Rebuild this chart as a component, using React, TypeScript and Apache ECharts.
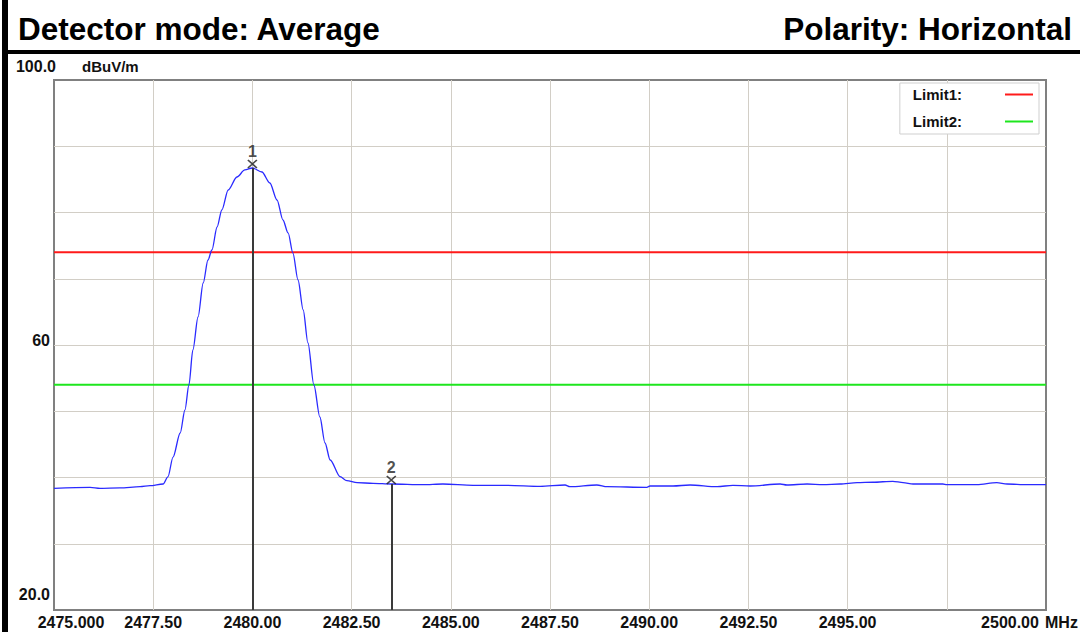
import React, { useEffect, useRef } from "react";
import * as echarts from "echarts";

// Trace: frequency (MHz) and level (dBuV/m)
const freqs = [
  2475.0, 2475.91, 2476.16, 2476.66, 2477.17, 2477.42, 2477.75, 2477.87, 2478.0, 2478.18,
  2478.3, 2478.4, 2478.5, 2478.63, 2478.76, 2478.88, 2478.98, 2479.11, 2479.23, 2479.39,
  2479.61, 2479.81, 2480.0, 2480.24, 2480.44, 2480.62, 2480.77, 2480.9, 2481.02, 2481.15,
  2481.28, 2481.4, 2481.55, 2481.7, 2481.83, 2481.96, 2482.21, 2482.38, 2482.64, 2483.04,
  2483.5, 2484.3, 2484.8, 2485.56, 2486.42, 2487.25, 2487.88, 2488.0, 2488.68, 2488.94,
  2489.94, 2490.02, 2490.6, 2491.03, 2491.71, 2492.11, 2492.54, 2493.3, 2493.47, 2493.98,
  2494.38, 2494.81, 2495.24, 2495.64, 2496.14, 2496.4, 2496.65, 2497.4, 2497.5, 2498.26,
  2498.76, 2499.02, 2499.52, 2500.0,
];
const levels = [
  38.37, 38.52, 38.37, 38.42, 38.61, 38.76, 39.02, 40.08, 43.09, 46.72,
  50.19, 53.96, 59.25, 64.23, 69.36, 72.83, 74.34, 77.81, 80.38, 83.4,
  85.36, 86.42, 86.72, 86.11, 84.45, 81.89, 78.87, 76.91, 73.89, 69.81,
  65.28, 60.3, 53.96, 49.13, 45.21, 42.64, 40.12, 39.52, 39.22, 39.12,
  39.02, 38.91, 39.02, 38.82, 38.82, 38.67, 38.87, 38.61, 38.87, 38.61,
  38.52, 38.72, 38.72, 38.87, 38.61, 38.82, 38.72, 39.02, 38.87, 39.02,
  38.91, 39.02, 39.22, 39.28, 39.43, 39.22, 39.02, 39.02, 38.91, 38.91,
  39.22, 39.02, 38.91, 38.91,
];

const limitNames = ["Limit1", "Limit2"];
const limitLevels = [74, 54];
const limitColors = ["#ff1a1a", "#1ee61e"];

const markerFreqs = [2480.0, 2483.5];
const markerLevels = [86.72, 39.02];
const markerLabels = ["1", "2"];

const xTickValues = [2475, 2477.5, 2480, 2482.5, 2485, 2487.5, 2490, 2492.5, 2495, 2497.5, 2500];
const xTickTexts = ["2475.000", "2477.50", "2480.00", "2482.50", "2485.00", "2487.50", "2490.00", "2492.50", "2495.00", "", "2500.00"];
const yTickValues = [100, 60, 20];
const yTickTexts = ["100.0", "60", "20.0"];

const FONT = "'Liberation Sans', Arial, Helvetica, sans-serif";

export default function App() {
  const ref = useRef<HTMLDivElement>(null);

  useEffect(() => {
    if (!ref.current) return;
    const chart = echarts.init(ref.current, undefined, { renderer: "svg" });

    const xFmt = (v: number) => {
      const i = xTickValues.findIndex((t) => Math.abs(t - v) < 1e-6);
      if (i < 0) return "";
      const t = xTickTexts[i];
      if (!t) return "";
      if (i === 0) return `{f|${t}}`;
      if (i === xTickValues.length - 1) return `{l|${t}}`;
      return `{n|${t}}`;
    };
    const yFmt = (v: number) => {
      const i = yTickValues.findIndex((t) => Math.abs(t - v) < 1e-6);
      if (i < 0) return "";
      const key = i === 0 ? "t" : i === yTickValues.length - 1 ? "b" : "m";
      return `{${key}|${yTickTexts[i]}}`;
    };
    const labelFont = { fontFamily: FONT, fontWeight: "bold" as const, fontSize: 16, color: "#111" };

    const option: any = {
      animation: false,
      backgroundColor: "#fff",
      textStyle: { fontFamily: FONT },
      grid: {
        left: 54,
        right: 34,
        top: 80,
        bottom: 22,
        show: true,
        borderColor: "#808080",
        borderWidth: 2,
        backgroundColor: "#fff",
      },
      legend: {
        data: limitNames,
        orient: "vertical",
        right: 41,
        top: 83,
        align: "right",
        icon: "rect",
        itemWidth: 28,
        itemHeight: 2,
        itemGap: 10,
        padding: [3, 6, 4, 13],
        backgroundColor: "#fff",
        borderColor: "#cfcfcf",
        borderWidth: 1,
        selectedMode: false,
        formatter: (n: string) => `{n|${n}:}`,
        textStyle: {
          ...labelFont,
          fontSize: 15,
          lineHeight: 17,
          rich: { n: { ...labelFont, fontSize: 15, lineHeight: 17, padding: [0, 38, 0, 0] } },
        },
      },
      xAxis: {
        type: "value",
        min: 2475,
        max: 2500,
        interval: 2.5,
        axisLine: { show: false },
        axisTick: { show: false },
        splitLine: { show: true, showMinLine: false, showMaxLine: false, lineStyle: { color: "#d2cec6", width: 1 } },
        axisLabel: {
          ...labelFont,
          margin: 4,
          showMinLabel: true,
          showMaxLabel: true,
          formatter: xFmt,
          rich: {
            n: { ...labelFont },
            f: { ...labelFont, padding: [0, 0, 0, 34] },
            l: { ...labelFont, padding: [0, 72, 0, 0] },
          },
        },
      },
      yAxis: {
        type: "value",
        min: 20,
        max: 100,
        interval: 10,
        axisLine: { show: false },
        axisTick: { show: false },
        splitLine: { show: true, showMinLine: false, showMaxLine: false, lineStyle: { color: "#d2cec6", width: 1 } },
        axisLabel: {
          ...labelFont,
          margin: -2,
          showMinLabel: true,
          showMaxLabel: true,
          formatter: yFmt,
          rich: {
            t: { ...labelFont, padding: [0, 0, 28, 0] },
            m: { ...labelFont, padding: [0, 6, 10, 0] },
            b: { ...labelFont, padding: [0, 6, 32, 0] },
          },
        },
      },
      series: [
        ...limitNames.map((n, i) => ({
          name: n,
          type: "line",
          data: [
            [2475, limitLevels[i]],
            [2500, limitLevels[i]],
          ],
          showSymbol: false,
          silent: true,
          itemStyle: { color: limitColors[i] },
          lineStyle: { color: limitColors[i], width: 2 },
          z: 3,
        })),
        {
          name: "Trace",
          type: "line",
          data: freqs.map((f, i) => [f, levels[i]]),
          showSymbol: false,
          silent: true,
          smooth: 0.3,
          smoothMonotone: "x",
          itemStyle: { color: "#2a2aff" },
          lineStyle: { color: "#2a2aff", width: 1.3 },
          z: 4,
        },
        {
          name: "Markers",
          type: "scatter",
          data: markerFreqs.map((f, i) => [f, markerLevels[i]]),
          symbol: "path://M0 0 L10 10 M10 0 L0 10",
          symbolSize: [9, 8],
          symbolOffset: [0, -4],
          silent: true,
          itemStyle: { color: "transparent", borderColor: "#1a1a1a", borderWidth: 1.6 },
          label: {
            show: true,
            position: "top",
            distance: 0,
            formatter: (p: any) => markerLabels[p.dataIndex],
            fontFamily: FONT,
            fontSize: 16,
            fontWeight: "bold",
            color: "#222",
          },
          markLine: {
            silent: true,
            symbol: ["none", "none"],
            label: { show: false },
            lineStyle: { color: "#3a3a3a", width: 2, type: "solid" },
            data: markerFreqs.map((f, i) => [
              { coord: [f, markerLevels[i]] },
              { coord: [f, 20] },
            ]),
          },
          z: 5,
        },
      ],
      graphic: [
        { type: "rect", shape: { x: 2, y: 0, width: 6, height: 632 }, style: { fill: "#000" } },
        { type: "rect", shape: { x: 8, y: 50, width: 1072, height: 4 }, style: { fill: "#000" } },
        {
          type: "text",
          x: 18,
          y: 29,
          style: { text: "Detector mode: Average", font: `bold 31.5px ${FONT}`, fill: "#000", align: "left", verticalAlign: "middle" },
        },
        {
          type: "text",
          x: 1072,
          y: 29,
          style: { text: "Polarity: Horizontal", font: `bold 31.5px ${FONT}`, fill: "#000", align: "right", verticalAlign: "middle" },
        },
        {
          type: "text",
          x: 82,
          y: 66,
          style: { text: "dBuV/m", font: `bold 15px ${FONT}`, fill: "#111", align: "left", verticalAlign: "middle" },
        },
        {
          type: "text",
          x: 1045,
          y: 622,
          style: { text: "MHz", font: `bold 16px ${FONT}`, fill: "#111", align: "left", verticalAlign: "middle" },
        },
      ],
    };

    chart.setOption(option);
    return () => chart.dispose();
  }, []);

  return (
    <div
      ref={ref}
      style={{ position: "fixed", left: 0, top: 0, width: 1080, height: 632, background: "#fff" }}
    />
  );
}
